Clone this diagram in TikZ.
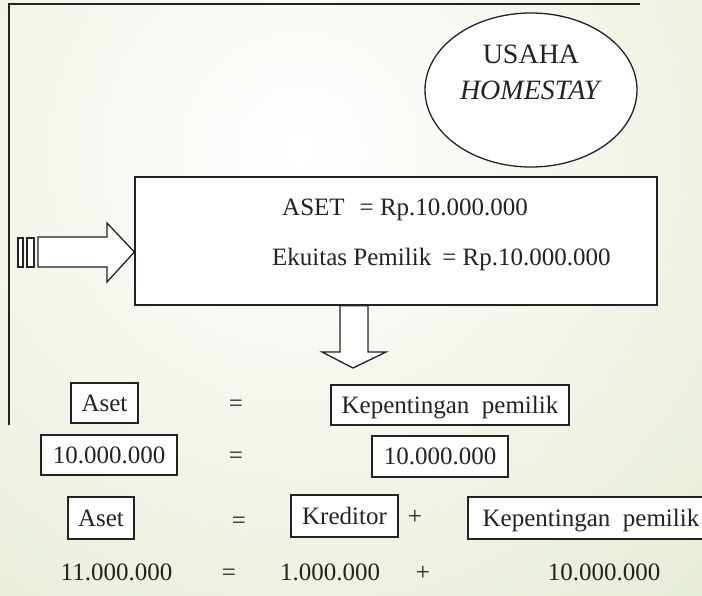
\documentclass[tikz,border=0pt]{standalone}
\usepackage{fontspec}
\setmainfont{Liberation Serif}
\usetikzlibrary{positioning}
\usetikzlibrary{shapes.geometric}

\definecolor{bggreen}{RGB}{218,228,194}
\definecolor{ink}{RGB}{35,35,35}

\begin{document}
\begin{tikzpicture}[x=1pt, y=-1pt,
  box/.style={draw=ink, line width=1.3pt, fill=white, rectangle, inner sep=0pt, minimum height=40pt, text height=16.5pt, text depth=0pt, font=\fontsize{25}{29}\selectfont, text=ink},
  txt/.style={inner sep=0pt, text height=16.5pt, text depth=0pt, font=\fontsize{25}{29}\selectfont, text=ink},
  blockarrow/.style={draw=ink, line width=1.3pt, fill=white, line join=miter}]
  \useasboundingbox (0,0) rectangle (702,595);

  % background
  \begin{scope}
    \clip (0,0) rectangle (702,595);
    \fill[bggreen] (0,0) rectangle (702,595);
    \shade[inner color=white, outer color=bggreen] (300,150) circle (900);
  \end{scope}

  % frame
  \coordinate (corner) at (9,4);
  \coordinate (topend) at (640,4);
  \coordinate (leftend) at (9,425);
  \draw[ink, line width=1.3pt] (topend) -- (corner) -- (leftend);

  \node[draw=ink, line width=1.3pt, fill=white, ellipse, minimum width=212pt, minimum height=154pt, inner sep=0pt, align=center, font=\fontsize{28}{36}\selectfont, text=ink] (usaha) at (531,90) {USAHA\\\textit{HOMESTAY}\\\mbox{}};

  \node[draw=ink, line width=1.3pt, fill=white, rectangle, minimum width=522pt, minimum height=128pt] (modal) at (396,241) {};
  \node[txt, anchor=base west, text height=] (aset) at (282,215) {ASET\hspace{15pt}= Rp.10.000.000};
  \node[txt, anchor=base west, text height=] (ekuitas) at (272,265) {Ekuitas Pemilik\hspace{11pt}= Rp.10.000.000};

  % arrows
  \coordinate (rtip) at (modal.west |- 0,252);
  \draw[blockarrow] (18,238) rectangle (23,267);
  \draw[blockarrow] (27,238) rectangle (34,267);
  \draw[blockarrow] (38,237) -- (107,237) -- (107,223) -- (rtip) -- (107,282) -- (107,267) -- (38,267) -- cycle;
  \coordinate (dtop) at (modal.south -| 354,0);
  \draw[blockarrow] ([xshift=-14pt]dtop) -- (340,352) -- (322,352) -- (353,368) -- (386,352) -- (368,352) -- ([xshift=14pt]dtop) -- cycle;

  % row 1
  \node[box, minimum width=67pt] (aset1) at (104.5,403) {Aset};
  \node[txt] (eq1) at (236,403) {=};
  \node[box, minimum width=238pt] (kp1) at (450,405) {Kepentingan~ pemilik};

  % row 2
  \node[box, minimum width=136pt] (nilai1) at (109,455) {10.000.000};
  \node[txt] (eq2) at (236,455) {=};
  \node[box, minimum width=136pt, minimum height=41pt] (nilai2) at (440,456.5) {10.000.000};

  % row 3
  \node[box, minimum width=66pt, minimum height=42pt] (aset2) at (101,518) {Aset};
  \node[txt] (eq3) at (239,520) {=};
  \node[box, minimum width=107pt, minimum height=42pt] (kred) at (344.5,516) {Kreditor};
  \node[txt] (plus1) at (415,516) {+};
  \node[box, minimum width=246pt, minimum height=42pt] (kp2) at (591,518) {Kepentingan~ pemilik};

  % row 4
  \node[txt] (total) at (116.5,572) {11.000.000};
  \node[txt] (eq4) at (229,572) {=};
  \node[txt] (utang) at (330,572) {1.000.000};
  \node[txt] (plus2) at (423,572) {+};
  \node[txt] (modal2) at (604,572) {10.000.000};
\end{tikzpicture}
\end{document}
